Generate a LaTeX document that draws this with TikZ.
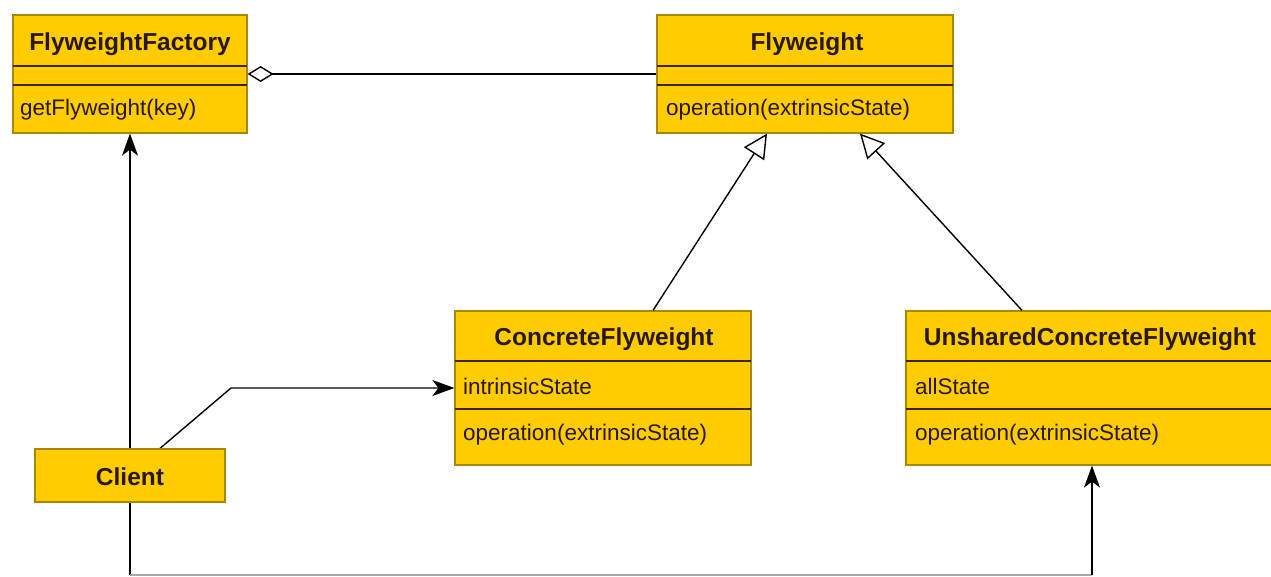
\documentclass[tikz,border=0pt]{standalone}
\usepackage{fontspec}
\setmainfont{Liberation Sans}
\usetikzlibrary{arrows.meta,calc}
\definecolor{umlfill}{RGB}{255,204,0}
\definecolor{umledge}{RGB}{170,135,0}
\definecolor{umlline}{RGB}{60,40,0}
\definecolor{umltext}{RGB}{40,25,0}
\tikzset{
  umlbox/.style={draw=umledge, fill=umlfill, line width=1.2pt, rectangle, inner sep=0pt},
  sepline/.style={draw=umlline, line width=1.6pt},
  titletext/.style={font=\fontsize{24.5}{29}\selectfont\bfseries, text=umltext, inner sep=0pt},
  membertext/.style={font=\fontsize{22.5}{27}\selectfont, text=umltext, inner sep=0pt, anchor=west},
  conn/.style={draw=black, line width=1.4pt},
  assoc/.style={conn, -{Stealth[length=22pt, width=16pt, inset=6pt]}},
  gener/.style={conn, -{Triangle[open, length=24pt, width=24pt, fill=white]}},
  aggr/.style={conn, {Diamond[open, length=26pt, width=16pt, fill=white]}-},
}
\begin{document}
\begin{tikzpicture}[x=1pt,y=-1pt]
\useasboundingbox (0,0) rectangle (1271,577);
\clip (0,0) rectangle (1271,577);
\fill[white] (0,0) rectangle (1271,577);

% FlyweightFactory
\node[umlbox, minimum width=234pt, minimum height=118pt] (ff) at (130,74) {};
\draw[sepline] (13,66) -- (247,66);
\draw[sepline] (13,85) -- (247,85);
\node[titletext] (fft) at (130,44) {FlyweightFactory};
\node[membertext] (ffm) at (20,110) {getFlyweight(key)};

% Flyweight
\node[umlbox, minimum width=296pt, minimum height=118pt] (fw) at (805,74) {};
\draw[sepline] (657,66) -- (953,66);
\draw[sepline] (657,85) -- (953,85);
\node[titletext] (fwt) at (807,44) {Flyweight};
\node[membertext] (fwm) at (666,110) {operation(extrinsicState)};

% ConcreteFlyweight
\node[umlbox, minimum width=296pt, minimum height=154pt] (cf) at (603,388) {};
\draw[sepline] (455,361) -- (751,361);
\draw[sepline] (455,409) -- (751,409);
\node[titletext] (cft) at (604,339) {ConcreteFlyweight};
\node[membertext] (cfa) at (463,386) {intrinsicState};
\node[membertext] (cfm) at (463,435) {operation(extrinsicState)};

% UnsharedConcreteFlyweight
\node[umlbox, minimum width=372pt, minimum height=154pt] (uc) at (1092,388) {};
\draw[sepline] (906,361) -- (1278,361);
\draw[sepline] (906,409) -- (1278,409);
\node[titletext] (uct) at (1090,339) {UnsharedConcreteFlyweight};
\node[membertext] (uca) at (915,386) {allState};
\node[membertext] (ucm) at (915,435) {operation(extrinsicState)};

% Connectors (drawn before Client so the box covers the line)
\coordinate (cbl) at (130,575);
\coordinate (cbr) at (1092,575);
\coordinate (cbend) at (231,388);

\draw[aggr] (ff.east) -- (fw.west);
\draw[gener] ([xshift=50pt]cf.north) -- ([xshift=-38pt]fw.south);
\draw[gener] ([xshift=-70pt]uc.north) -- ([xshift=55pt]fw.south);

% Client
\node[umlbox, minimum width=190pt, minimum height=53pt] (cl) at (130,475.5) {};
\draw[assoc] (cl.north) -- (ff.south);
\draw[conn] (cl.south) -- (cbl);
\draw[draw=black!35, line width=1.2pt] (cbl) -- (cbr);
\draw[assoc] (cbr) -- (uc.south);
\draw[assoc] ([xshift=30pt]cl.north) -- (cbend) -- (cf.west);
\node[umlbox, minimum width=190pt, minimum height=53pt] (cl2) at (130,475.5) {};
\node[titletext] (clt) at (130,477) {Client};
\end{tikzpicture}
\end{document}
